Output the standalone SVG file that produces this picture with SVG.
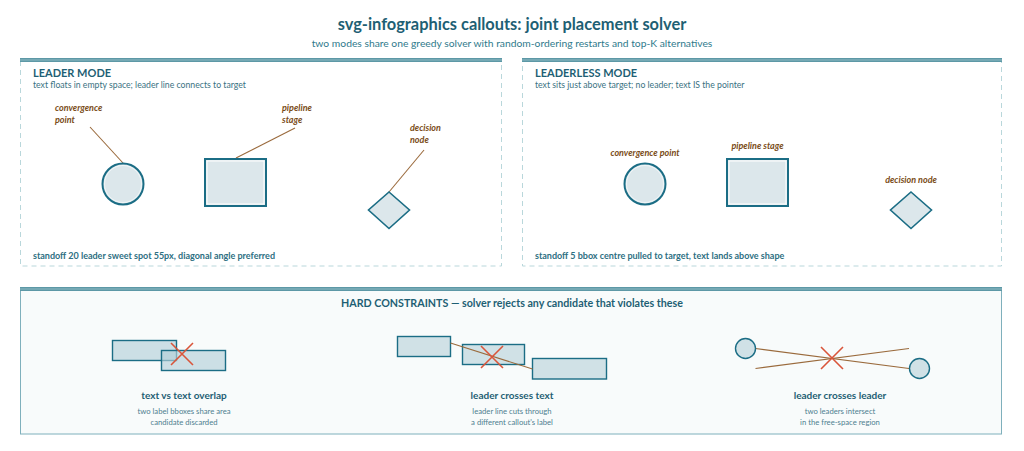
<svg xmlns="http://www.w3.org/2000/svg" width="1024" height="451" viewBox="0 0 1024 451">
<style>
text{font-family:Lato,"Open Sans","DejaVu Sans",sans-serif}
.title{font-size:16.4px;font-weight:700;fill:#1e5f74}
.sub{font-size:10.3px;fill:#2f7a8c}
.ptitle{font-size:11px;font-weight:700;fill:#1e5f74}
.pdesc{font-size:8.7px;fill:#3a7282}
.foot{font-size:9px;font-weight:700;fill:#2d6f82}
.lbl{font-size:9px;font-style:italic;font-weight:700;fill:#7a4c17}
.ctitle{font-size:10px;font-weight:700;fill:#1e5f74}
.htitle{font-size:10.7px;font-weight:700;fill:#1e5f74}
.cdesc{font-size:7.7px;fill:#4f8090}
.panel{fill:none;stroke:#b9d7db;stroke-width:1;stroke-dasharray:5 4}
.bar{fill:#5d98a6}
.shape{fill:#dce7eb;stroke:#1b6d85;stroke-width:2}
.inner{fill:none;stroke:#ffffff;stroke-width:1}
.leader{stroke:#9a6a3c;stroke-width:1.1;fill:none}
.xm{stroke:#d9553a;stroke-width:1.6;fill:none}
.box{fill:#b4d0d8;fill-opacity:0.65;stroke:#1b6d85;stroke-width:1.4}
.sc{fill:#d0e1e6;stroke:#1b6d85;stroke-width:1.4}
</style>

<g id="header">
<text class="title" x="512" y="30" text-anchor="middle">svg-infographics callouts: joint placement solver</text>
<text class="sub" x="512" y="47" text-anchor="middle">two modes share one greedy solver with random-ordering restarts and top-K alternatives</text>
</g>

<g id="panel-leader">
<rect class="panel" x="20.5" y="60" width="481" height="206"/>
<rect class="bar" x="20" y="58" width="482" height="4"/>
<line x1="20" y1="60" x2="502" y2="60" stroke="#9cc3cc" stroke-width="0.8"/>
<text class="ptitle" x="33" y="77">LEADER MODE</text>
<text class="pdesc" x="33" y="88">text floats in empty space; leader line connects to target</text>
<text class="foot" x="33" y="259">standoff 20 leader sweet spot 55px, diagonal angle preferred</text>
</g>

<g id="panel-leaderless">
<rect class="panel" x="522.5" y="60" width="479" height="206"/>
<rect class="bar" x="522" y="58" width="480" height="4"/>
<line x1="522" y1="60" x2="1002" y2="60" stroke="#9cc3cc" stroke-width="0.8"/>
<text class="ptitle" x="535" y="77">LEADERLESS MODE</text>
<text class="pdesc" x="535" y="88">text sits just above target; no leader; text IS the pointer</text>
<text class="foot" x="535" y="259">standoff 5 bbox centre pulled to target, text lands above shape</text>
</g>

<g id="connectors">
<line class="leader" x1="90" y1="127" x2="123" y2="163"/>
<line class="leader" x1="295" y1="128" x2="236" y2="158"/>
<line class="leader" x1="424" y1="150" x2="389" y2="192"/>
</g>

<g id="node-l-convergence">
<circle class="shape" cx="123" cy="184" r="20.5"/>
<circle class="inner" cx="123" cy="184" r="18.5" stroke-opacity="0.6"/>
<text class="lbl" x="55" y="111">convergence</text>
<text class="lbl" x="55" y="123">point</text>
</g>
<g id="node-l-pipeline">
<rect class="shape" x="205" y="159" width="61" height="47"/>
<rect class="inner" x="207" y="161" width="57" height="43"/>
<text class="lbl" x="282" y="111">pipeline</text>
<text class="lbl" x="282" y="123">stage</text>
</g>
<g id="node-l-decision">
<polygon class="shape" points="389,192 409.5,210 389,228.5 368.5,210" style="stroke-width:1.6"/>
<text class="lbl" x="410" y="131">decision</text>
<text class="lbl" x="410" y="143">node</text>
</g>

<g id="node-r-convergence">
<circle class="shape" cx="645" cy="184" r="20.5"/>
<circle class="inner" cx="645" cy="184" r="18.5" stroke-opacity="0.6"/>
<text class="lbl" x="645" y="156" text-anchor="middle">convergence point</text>
</g>
<g id="node-r-pipeline">
<rect class="shape" x="727" y="159" width="61" height="47"/>
<rect class="inner" x="729" y="161" width="57" height="43"/>
<text class="lbl" x="757.5" y="149" text-anchor="middle">pipeline stage</text>
</g>
<g id="node-r-decision">
<polygon class="shape" points="911,192 931.5,210 911,228.5 890.5,210" style="stroke-width:1.6"/>
<text class="lbl" x="911" y="183" text-anchor="middle">decision node</text>
</g>

<g id="panel-constraints">
<rect x="20.5" y="289" width="981" height="145" fill="#f8fbfb" stroke="#7fb0bc" stroke-width="1"/>
<rect class="bar" x="20" y="287" width="982" height="4"/>
<line x1="20" y1="289" x2="1002" y2="289" stroke="#9cc3cc" stroke-width="0.8"/>
<text class="htitle" x="512" y="307" text-anchor="middle">HARD CONSTRAINTS — solver rejects any candidate that violates these</text>
</g>

<g id="constraint-overlap">
<rect class="box" x="112.5" y="340.5" width="64" height="20"/>
<rect class="box" x="161.5" y="350.5" width="64" height="20"/>
<path class="xm" d="M171,343 L193,365 M193,343 L171,365"/>
<text class="ctitle" x="184" y="399" text-anchor="middle">text vs text overlap</text>
<text class="cdesc" x="184" y="414" text-anchor="middle">two label bboxes share area</text>
<text class="cdesc" x="184" y="425" text-anchor="middle">candidate discarded</text>
</g>

<g id="constraint-leader-text">
<rect class="sc" x="397.5" y="336.5" width="53" height="20"/>
<rect class="sc" x="462.5" y="344.5" width="62" height="20"/>
<rect class="sc" x="532.5" y="358.5" width="74" height="20.5"/>
<line class="leader" x1="450.5" y1="343" x2="532.5" y2="369"/>
<path class="xm" d="M481,346 L503,368 M503,346 L481,368"/>
<text class="ctitle" x="512" y="399" text-anchor="middle">leader crosses text</text>
<text class="cdesc" x="512" y="414" text-anchor="middle">leader line cuts through</text>
<text class="cdesc" x="512" y="425" text-anchor="middle">a different callout's label</text>
</g>

<g id="constraint-leader-leader">
<line class="leader" x1="755.5" y1="348.5" x2="909" y2="368.5"/>
<line class="leader" x1="755.5" y1="368.5" x2="909" y2="348.5"/>
<circle class="sc" cx="745.5" cy="348.5" r="10"/>
<circle class="sc" cx="919.5" cy="368.5" r="10"/>
<path class="xm" d="M821,347 L843,369 M843,347 L821,369"/>
<text class="ctitle" x="840" y="399" text-anchor="middle">leader crosses leader</text>
<text class="cdesc" x="840" y="414" text-anchor="middle">two leaders intersect</text>
<text class="cdesc" x="840" y="425" text-anchor="middle">in the free-space region</text>
</g>
</svg>
